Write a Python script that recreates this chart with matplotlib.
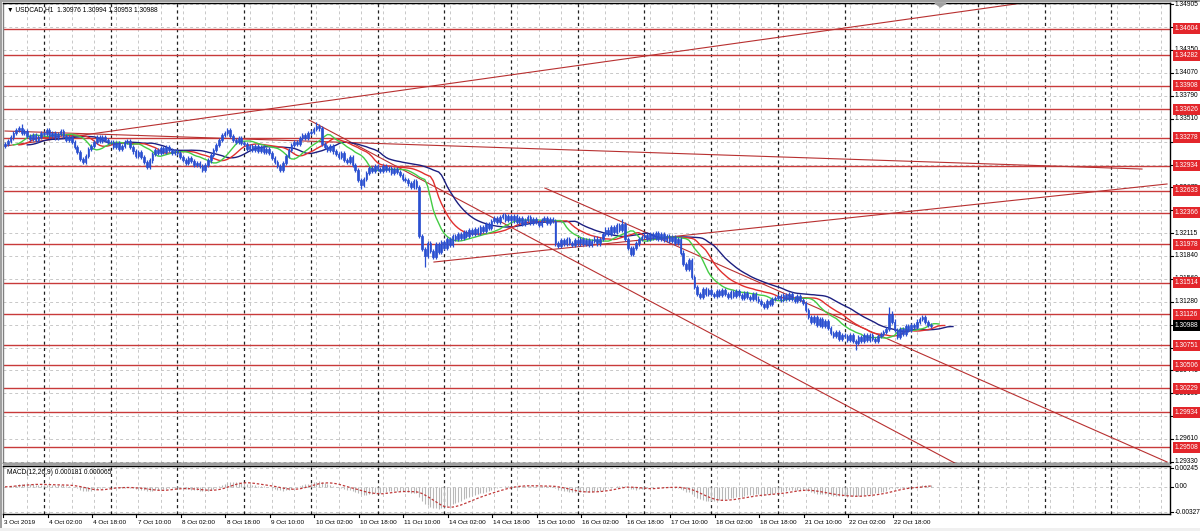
import matplotlib
matplotlib.use("Agg")
import matplotlib.pyplot as plt
import matplotlib.transforms as mtransforms
from matplotlib import font_manager
from matplotlib.patches import Rectangle, Polygon
import numpy as np
import pandas as pd

# ---------------- data ----------------
title_text = "USDCAD,H1  1.30976 1.30994 1.30953 1.30988"
macd_text = "MACD(12,26,9) 0.000181 0.000065"

first_open = 1.3318
d03 = [1.3320, 1.3324, 1.3328, 1.3333, 1.3337, 1.3340, 1.3333, 1.3336, 1.3330, 1.3326, 1.3331, 1.3325, 1.3329, 1.3333]
d04 = [1.3332, 1.3337, 1.3330, 1.3334, 1.3328, 1.3332, 1.3336, 1.3330, 1.3325, 1.3329, 1.3322, 1.3316, 1.3310, 1.3302,
       1.3298, 1.3306, 1.3314, 1.3318, 1.3323, 1.3328, 1.3324, 1.3329, 1.3325, 1.3322]
d07 = [1.3323, 1.3317, 1.3321, 1.3314, 1.3318, 1.3322, 1.3324, 1.3316, 1.3311, 1.3306, 1.3310, 1.3304, 1.3298, 1.3292,
       1.3300, 1.3308, 1.3313, 1.3309, 1.3315, 1.3310, 1.3316, 1.3313, 1.3309, 1.3312]
d08 = [1.3309, 1.3304, 1.3301, 1.3297, 1.3303, 1.3299, 1.3294, 1.3297, 1.3293, 1.3289, 1.3295, 1.3300, 1.3307, 1.3313,
       1.3319, 1.3325, 1.3331, 1.3334, 1.3337, 1.3330, 1.3325, 1.3322, 1.3327, 1.3321]
d09 = [1.3320, 1.3314, 1.3318, 1.3313, 1.3318, 1.3312, 1.3316, 1.3310, 1.3314, 1.3309, 1.3303, 1.3298, 1.3293, 1.3289,
       1.3297, 1.3305, 1.3313, 1.3319, 1.3323, 1.3320, 1.3327, 1.3331, 1.3327, 1.3333]
d10 = [1.3335, 1.3338, 1.3342, 1.3339, 1.3320, 1.3316, 1.3313, 1.3318, 1.3311, 1.3308, 1.3304, 1.3309, 1.3301, 1.3298,
       1.3304, 1.3295, 1.3288, 1.3276, 1.3270, 1.3277, 1.3285, 1.3291, 1.3287, 1.3293]
d11 = [1.3290, 1.3287, 1.3293, 1.3288, 1.3291, 1.3285, 1.3290, 1.3286, 1.3282, 1.3278, 1.3276, 1.3272, 1.3268, 1.3275,
       1.3268, 1.3208, 1.3192, 1.3184, 1.3200, 1.3190, 1.3183, 1.3198, 1.3189, 1.3201]
d14 = [1.3193, 1.3204, 1.3197, 1.3208, 1.3204, 1.3211, 1.3206, 1.3213, 1.3208, 1.3215, 1.3210, 1.3217, 1.3212, 1.3219,
       1.3214, 1.3223, 1.3218, 1.3226, 1.3230, 1.3225, 1.3231, 1.3234, 1.3228, 1.3232]
d15 = [1.3227, 1.3232, 1.3225, 1.3230, 1.3223, 1.3228, 1.3231, 1.3224, 1.3229, 1.3225, 1.3222, 1.3228, 1.3230, 1.3224,
       1.3229, 1.3226, 1.3199, 1.3196, 1.3203, 1.3198, 1.3204, 1.3200, 1.3197, 1.3203]
d16 = [1.3199, 1.3204, 1.3198, 1.3203, 1.3197, 1.3202, 1.3205, 1.3199, 1.3204, 1.3211, 1.3216, 1.3211, 1.3219, 1.3213,
       1.3221, 1.3215, 1.3223, 1.3204, 1.3194, 1.3186, 1.3193, 1.3199, 1.3204, 1.3207]
d17 = [1.3209, 1.3204, 1.3211, 1.3206, 1.3212, 1.3205, 1.3210, 1.3203, 1.3208, 1.3202, 1.3207, 1.3200, 1.3204, 1.3188,
       1.3174, 1.3168, 1.3179, 1.3158, 1.3146, 1.3138, 1.3134, 1.3143, 1.3137, 1.3142]
d18 = [1.3138, 1.3135, 1.3141, 1.3136, 1.3142, 1.3137, 1.3134, 1.3140, 1.3135, 1.3141, 1.3136, 1.3133, 1.3139, 1.3134,
       1.3131, 1.3137, 1.3132, 1.3129, 1.3125, 1.3122, 1.3129, 1.3125, 1.3131, 1.3133]
d21 = [1.3135, 1.3130, 1.3136, 1.3131, 1.3137, 1.3132, 1.3129, 1.3135, 1.3130, 1.3126, 1.3118, 1.3110, 1.3103, 1.3109,
       1.3100, 1.3107, 1.3098, 1.3105, 1.3096, 1.3090, 1.3086, 1.3091, 1.3083, 1.3088]
d22 = [1.3086, 1.3081, 1.3088, 1.3080, 1.3078, 1.3085, 1.3080, 1.3088, 1.3082, 1.3087, 1.3083, 1.3080, 1.3086, 1.3089,
       1.3091, 1.3095, 1.3113, 1.3104, 1.3094, 1.3085, 1.3095, 1.3089, 1.3098, 1.3094]
d23 = [1.3100, 1.3097, 1.3104, 1.3107, 1.3109, 1.3103, 1.3100, 1.30988]

wick_pips = 0.00025
high_marks = {6: 1.3345, 112: 1.3347, 222: 1.3229, 318: 1.3122, 319: 1.3117}
low_marks = {128: 1.3265, 151: 1.3170, 306: 1.3069}

levels = [1.34604, 1.34282, 1.33908, 1.33626, 1.33278, 1.32934, 1.32633, 1.32366,
          1.31978, 1.31514, 1.31126, 1.30751, 1.30506, 1.30229, 1.29934, 1.29508]
price_ticks = [1.34905, 1.34630, 1.34350, 1.34070, 1.33790, 1.33510, 1.33230, 1.32950,
               1.32675, 1.32395, 1.32115, 1.31840, 1.31560, 1.31280, 1.31000, 1.30720,
               1.30445, 1.30165, 1.29885, 1.29610, 1.29330]
bid_price = 1.30988

# trend lines: (bar, price) endpoints
trend_lines = [((0, 1.33176), (366, 1.34917)),
               ((0, 1.33359), (409, 1.32896)),
               ((109.4, 1.33493), (345, 1.29257)),
               ((194.2, 1.32665), (418, 1.29330)),
               ((154.3, 1.31764), (418, 1.32714))]

time_labels = ["3 Oct 2019", "4 Oct 02:00", "4 Oct 18:00", "7 Oct 10:00", "8 Oct 02:00", "8 Oct 18:00",
               "9 Oct 10:00", "10 Oct 02:00", "10 Oct 18:00", "11 Oct 10:00", "14 Oct 02:00", "14 Oct 18:00",
               "15 Oct 10:00", "16 Oct 02:00", "16 Oct 18:00", "17 Oct 10:00", "18 Oct 02:00", "18 Oct 18:00",
               "21 Oct 10:00", "22 Oct 02:00", "22 Oct 18:00"]
label_step = 16
day_starts = [14, 38, 62, 86, 110, 134, 158, 182, 206, 230, 254, 278, 302, 326, 350, 374, 398]
macd_labels = [0.00245, 0.00, -0.00327]

# ---------------- fonts ----------------
installed = {f.name for f in font_manager.fontManager.ttflist}
if 'Liberation Sans Narrow' in installed:
    FAM = ['Liberation Sans Narrow', 'DejaVu Sans']
    FS_AX, FS_T = 5.7, 5.5
else:
    FAM = ['Liberation Sans', 'DejaVu Sans']
    FS_AX, FS_T = 4.8, 4.6

# ---------------- build series ----------------
close = np.array(d03 + d04 + d07 + d08 + d09 + d10 + d11 + d14 + d15 + d16 + d17 + d18 + d21 + d22 + d23)
n = len(close)
opn = np.concatenate([[first_open], close[:-1]])
high = np.maximum(opn, close) + wick_pips
low = np.minimum(opn, close) - wick_pips
for k, v in high_marks.items():
    high[k] = max(high[k], v)
for k, v in low_marks.items():
    low[k] = min(low[k], v)
idx = np.arange(n)

median = pd.Series((high + low) / 2)
def smma(s, p):
    return s.ewm(alpha=1.0 / p, adjust=False).mean().values
jaw = smma(median, 13)
teeth = smma(median, 8)
lips = smma(median, 5)

cs = pd.Series(close)
macd_main = (cs.ewm(span=12, adjust=False).mean() - cs.ewm(span=26, adjust=False).mean()).values
macd_sig = pd.Series(macd_main).rolling(9, min_periods=1).mean().values

# ---------------- layout ----------------
W, H = 1200, 531
fig = plt.figure(figsize=(12, 5.31), dpi=100)
fig.patch.set_facecolor('white')

def fx(px):
    return px / W

def fy(py):
    return 1 - py / H

ax = fig.add_axes([fx(3), fy(463), fx(1170) - fx(3), fy(3) - fy(463)])
mx = fig.add_axes([fx(3), fy(514), fx(1170) - fx(3), fy(466) - fy(514)])

bar_px = 2.78
x_left = -2.0 / bar_px
x_right = (1170 - 5) / bar_px
ppu = 8215.0
y_top = 1.34905 + 1 / ppu
y_bot = 1.34905 - 459 / ppu
ax.set_xlim(x_left, x_right)
ax.set_ylim(y_bot, y_top)
mx.set_xlim(x_left, x_right)
mppu = 44 / 0.00572
mx.set_ylim(-0.00327 - 2 / mppu, 0.00245 + 2 / mppu)

for a in (ax, mx):
    a.set_xticks([])
    a.set_yticks([])
    a.set_facecolor('white')
    for s in a.spines.values():
        s.set_color('black')
        s.set_linewidth(1.0)
    a.spines['left'].set_color('#808080')

grid_col = '#c8c8c8'
for p in price_ticks:
    ax.axhline(p, color=grid_col, lw=0.7, ls=(0, (3, 3)), zorder=0)
for v in macd_labels:
    mx.axhline(v, color=grid_col, lw=0.7, ls=(0, (3, 3)), zorder=0)
for b in range(8, 424, 8):
    ax.axvline(b, color=grid_col, lw=0.7, ls=(0, (3, 3)), zorder=0)
    mx.axvline(b, color=grid_col, lw=0.7, ls=(0, (3, 3)), zorder=0)
for b in day_starts:
    ax.axvline(b, color='#202020', lw=0.9, ls=(0, (2.5, 2.5)), zorder=0.5)
    mx.axvline(b, color='#202020', lw=0.9, ls=(0, (2.5, 2.5)), zorder=0.5)

lvl_col = '#c83a3a'
for p in levels:
    ax.axhline(p, color=lvl_col, lw=1.0, zorder=1)
for (x0, y0), (x1, y1) in trend_lines:
    ax.plot([x0, x1], [y0, y1], color='#b83030', lw=0.8, zorder=1.2)

# candles
cand_col = '#2a4fd0'
ax.vlines(idx, low, high, color=cand_col, lw=0.9, zorder=3)
body_lo = np.minimum(opn, close)
body_h = np.maximum(np.abs(close - opn), 0.00003)
ax.bar(idx, body_h, bottom=body_lo, width=0.6, color=cand_col, edgecolor=cand_col, lw=0.5, zorder=3)

# alligator
ax.plot(idx + 8, jaw, color='#1c1f80', lw=1.0, zorder=2)
ax.plot(idx + 5, teeth, color='#e0302e', lw=1.0, zorder=2)
ax.plot(idx + 3, lips, color='#44cc44', lw=1.0, zorder=2)

# chart shift marker
ax.add_patch(Polygon([[334.5, y_top], [338.5, y_top], [336.5, y_top - 4 / ppu]], closed=True,
                     color='#a0a0a0', zorder=5, clip_on=False))

# title
ax.text(0.003, 0.993, "\u25BC " + title_text, transform=ax.transAxes, fontsize=FS_AX,
        family=FAM, va='top', ha='left', color='black', zorder=6)

# MACD
mx.vlines(idx, 0, macd_main, color='#b8b8b8', lw=0.8, zorder=2)
mx.plot(idx, macd_sig, color='#c03838', lw=0.9, ls=(0, (2, 1.5)), zorder=3)
mx.text(0.003, 0.93, macd_text, transform=mx.transAxes, fontsize=FS_AX, family=FAM,
        va='top', ha='left', color='black')

# right axis labels
tr_main = mtransforms.blended_transform_factory(fig.transFigure, ax.transData)
tr_macd = mtransforms.blended_transform_factory(fig.transFigure, mx.transData)
lab_x = fx(1175)
for p in price_ticks:
    fig.text(lab_x, p, f"{p:.5f}", transform=tr_main, fontsize=FS_AX, family=FAM,
             va='center', ha='left', color='black')
    fig.add_artist(plt.Line2D([fx(1170), fx(1173)], [p, p], transform=tr_main, color='black', lw=0.8))
for p in levels:
    fig.text(lab_x, p, f"{p:.5f}", transform=tr_main, fontsize=FS_AX, family=FAM, va='center', ha='left',
             color='white', bbox=dict(boxstyle='square,pad=0.3', fc='#e3262b', ec='none'))
fig.text(lab_x, bid_price, f"{bid_price:.5f}", transform=tr_main, fontsize=FS_AX, family=FAM, va='center',
         ha='left', color='white', bbox=dict(boxstyle='square,pad=0.3', fc='black', ec='none'))
for v in macd_labels:
    fig.text(lab_x, v, f"{v:.5f}" if v != 0 else "0.00", transform=tr_macd, fontsize=FS_AX, family=FAM,
             va='center', ha='left', color='black')
    fig.add_artist(plt.Line2D([fx(1170), fx(1173)], [v, v], transform=tr_macd, color='black', lw=0.8))

# time labels
tr_time = mtransforms.blended_transform_factory(mx.transData, fig.transFigure)
for k, lab in enumerate(time_labels):
    b = k * label_step
    fig.text(b - 0.3, fy(522), lab, transform=tr_time, fontsize=FS_T, family=FAM,
             va='center', ha='left', color='black')
    fig.add_artist(plt.Line2D([b - 0.7, b - 0.7], [fy(514), fy(517)], transform=tr_time, color='black', lw=0.8))

# panel separator and frame
fig.add_artist(Rectangle((fx(3), fy(466)), fx(1170) - fx(3), fy(463) - fy(466), transform=fig.transFigure,
                         fc='#a0a0a0', ec='none'))
fig.add_artist(Rectangle((0, 0), 1, fy(528), transform=fig.transFigure, fc='#f0f0f0', ec='none', zorder=-1))
fig.add_artist(Rectangle((0, fy(528)), fx(2), 1 - fy(528), transform=fig.transFigure, fc='#a0a0a0', ec='none'))
fig.add_artist(Rectangle((0, fy(2)), 1, fy(0) - fy(2), transform=fig.transFigure, fc='#a0a0a0', ec='none'))

fig.savefig("out.png", dpi=100, facecolor='white')
